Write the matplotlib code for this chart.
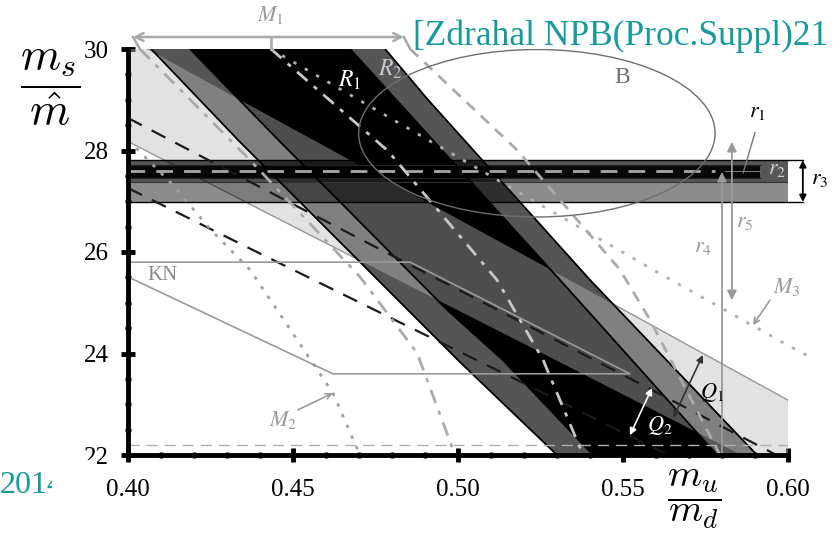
import numpy as np
import matplotlib.pyplot as plt
from matplotlib.patches import Polygon, Ellipse, Rectangle

plt.rcParams['font.family'] = ['Liberation Serif', 'DejaVu Serif']
plt.rcParams['mathtext.fontset'] = 'stix'

# values: x = m_u/m_d, y = m_s/m_hat
# edges of the two R bands (solid black lines)
la_x = [0.4070, 0.4333, 0.5006, 0.5300]
la_y = [30.0, 28.21, 23.83, 22.0]
la2_x = [0.4188, 0.4455, 0.4636, 0.4967, 0.5136, 0.5409]
la2_y = [30.0, 28.21, 27.03, 24.86, 23.87, 22.0]
ra_x = [0.4673, 0.5309, 0.5785]
ra_y = [30.0, 25.45, 22.0]
rb_x = [0.4779, 0.4909, 0.5400, 0.5906]
rb_y = [30.0, 29.0, 25.45, 22.0]

# Q1 band (light) and Q2 curves (black dashed)
q_r = [0.40, 0.44, 0.48, 0.52, 0.56, 0.60]
q1_lo = [28.18, 26.84, 25.51, 24.19, 22.86, 21.53]
q1_hi = [30.21, 28.78, 27.36, 25.94, 24.51, 23.08]
q2_hi = [28.64, 27.28, 25.93, 24.59, 23.24, 21.88]
q2_lo = [27.26, 25.97, 24.69, 23.41, 22.12, 20.83]

# horizontal lattice bands r1..r3
r3_band = (26.985, 27.81)
r2_band = (27.38, 27.81)
r1_band = (27.46, 27.71)
r1_end = 0.5915
r_centre = 27.60
r4_x, r4_top = 0.580, 27.58
r5_x, r5_span = 0.583, (25.05, 28.17)

# gray M lines
m_left_x = [0.4036, 0.4370, 0.4703, 0.4876, 0.4991]
m_left_y = [30.0, 27.81, 25.51, 24.01, 22.0]
m2_x = [0.40, 0.4130, 0.4252, 0.4370, 0.4621, 0.4703]
m2_y = [28.21, 27.36, 26.43, 25.65, 23.22, 22.0]
m1_dash_x = [0.4433, 0.4788, 0.4915, 0.5118, 0.5258, 0.5379]
m1_dash_y = [30.0, 27.99, 27.01, 25.45, 23.87, 22.0]
m3_x = [0.4433, 0.4909, 0.5591, 0.5997, 0.6067]
m3_y = [30.0, 28.21, 25.65, 24.17, 23.93]
m_right_x = [0.4855, 0.5179, 0.5491, 0.5582, 0.5794]
m_right_y = [30.0, 28.01, 25.65, 24.66, 22.0]

# KN outline and ellipse B
kn_x = [0.40, 0.4855, 0.5521, 0.4621, 0.40]
kn_y = [25.80, 25.80, 23.60, 23.60, 25.51]
b_centre = (0.5239, 28.34)
b_size = (0.108, 3.30)

fig = plt.figure(figsize=(8.4, 5.42), dpi=100)
ax = fig.add_axes([128/840, 1-455/542, 660/840, 406/542])
ax.set_xlim(0.40, 0.60)
ax.set_ylim(22, 30)


def pts(xs, ys):
    return list(zip(xs, ys))


strip_a = pts(la_x, la_y) + pts(la2_x, la2_y)[::-1]
middle = pts(la2_x, la2_y) + pts(ra_x, ra_y)[::-1]
strip_b = pts(ra_x, ra_y) + pts(rb_x, rb_y)[::-1]
ax.add_patch(Polygon(strip_a, closed=True, fc='#555555', ec='none', zorder=2))
ax.add_patch(Polygon(middle, closed=True, fc='black', ec='none', zorder=2))
ax.add_patch(Polygon(strip_b, closed=True, fc='#555555', ec='none', zorder=2))

# Q1 band drawn on top as a light veil
ax.plot(q_r, q1_lo, color='#8c8c8c', lw=1, zorder=1.5)
ax.plot(q_r, q1_hi, color='#8c8c8c', lw=1, zorder=1.5)
q1_poly = pts(q_r, q1_hi) + pts(q_r, q1_lo)[::-1]
ax.add_patch(Polygon(q1_poly, closed=True, fc='#bcbcbc', alpha=0.42, ec='none', zorder=3))

# horizontal r bands
ax.fill_between([0.40, 0.60], *r3_band, color='black', alpha=0.45, lw=0, zorder=4)
ax.fill_between([0.40, 0.60], *r2_band, color='black', alpha=0.38, lw=0, zorder=4)
ax.fill_between([0.40, r1_end], *r1_band, color='black', alpha=0.9, lw=0, zorder=4)
for yy in r3_band:
    ax.plot([0.40, 0.6045], [yy, yy], color='black', lw=1, zorder=5, clip_on=False)
for yy in r1_band:
    ax.plot([0.40, r1_end], [yy, yy], color='#222222', lw=0.8, zorder=5)
ax.plot([0.40, 0.60], [r2_band[0]] * 2, color='#333333', lw=0.8, zorder=5)
ax.plot([0.40, 0.578], [r_centre] * 2, color='#a8a8a8', lw=2, dashes=(6, 4), zorder=6)
ax.plot([0.581, r1_end], [r_centre] * 2, color='#777777', lw=0.8, zorder=6)

# R band edges and Q2 curves
for xs, ys in [(la_x, la_y), (la2_x, la2_y), (ra_x, ra_y), (rb_x, rb_y)]:
    ax.plot(xs, ys, color='black', lw=1.3, zorder=5)
ax.plot(q_r, q2_hi, color='#1a1a1a', lw=1.6, dashes=(7, 5), zorder=5)
ax.plot(q_r, q2_lo, color='#1a1a1a', lw=1.6, dashes=(7, 5), zorder=5)

# gray M lines
ax.plot(m_left_x, m_left_y, color='#aaaaaa', lw=2, dashes=(5, 3, 1.5, 3), zorder=6)
ax.plot(m2_x, m2_y, color='#a0a0a0', lw=2, dashes=(1.2, 3), zorder=6)
ax.plot(m1_dash_x, m1_dash_y, color='#c8c8c8', lw=2, dashes=(5, 3, 1.5, 3), zorder=6)
ax.plot(m3_x, m3_y, color='#b0b0b0', lw=2, dashes=(1.2, 3.5), zorder=6, clip_on=False)
ax.plot(m_right_x, m_right_y, color='#aaaaaa', lw=2, dashes=(4, 3), zorder=6)
ax.plot([0.40, 0.60], [22.2, 22.2], color='#b0b0b0', lw=1, dashes=(8, 5), zorder=6)

ax.plot(kn_x, kn_y, color='#9a9a9a', lw=1.2, zorder=6)
ax.add_patch(Ellipse(b_centre, *b_size, fill=False, ec='#6e6e6e', lw=1, zorder=6))

# annotations
gray = '#9a9a9a'
ax.annotate('', xy=(0.4015, 30.236), xytext=(0.4836, 30.236), annotation_clip=False,
            arrowprops=dict(arrowstyle='<->', color='#a8a8a8', lw=1.8, mutation_scale=14,
                            shrinkA=0, shrinkB=0))
for xa, xb in [(0.4433, 0.4433), (0.4015, 0.4036), (0.4836, 0.4855)]:
    ax.plot([xa, xb], [30.236, 30.0], color='#a8a8a8', lw=1.8, clip_on=False)
ax.text(0.4433, 30.67, r'$M_1$', color=gray, fontsize=16, ha='center', va='center')
ax.text(0.4673, 29.39, r'$R_1$', color='white', fontsize=17, ha='center', va='center', zorder=8)
ax.text(0.4794, 29.59, r'$R_2$', color='#c8c8d0', fontsize=17, ha='center', va='center', zorder=8)
ax.text(0.5497, 29.43, 'B', color='#707070', fontsize=17, ha='center', va='center', zorder=8)
ax.text(0.4106, 25.53, 'KN', color='#8a8a8a', fontsize=15, ha='center', va='center', zorder=8)

ax.text(0.5906, 28.74, r'$r_1$', color='black', fontsize=16, ha='center', va='center', zorder=8)
ax.plot([0.5900, 0.5864], [28.35, 27.56], color='#777777', lw=1, zorder=8)
ax.text(0.5967, 27.62, r'$r_2$', color='#cfcfcf', fontsize=16, ha='center', va='center', zorder=8)
ax.text(0.6097, 27.42, r'$r_3$', color='black', fontsize=16, ha='center', va='center', zorder=8)
ax.annotate('', xy=(0.6045, r3_band[1]), xytext=(0.6045, r3_band[0]), annotation_clip=False,
            arrowprops=dict(arrowstyle='<|-|>', color='black', lw=1.3, mutation_scale=10,
                            shrinkA=0, shrinkB=0))
ax.annotate('', xy=(r4_x, r4_top), xytext=(r4_x, 22.0),
            arrowprops=dict(arrowstyle='-|>', color=gray, lw=1.3, mutation_scale=14,
                            shrinkA=0, shrinkB=0), zorder=8)
ax.text(0.5742, 26.08, r'$r_4$', color=gray, fontsize=16, ha='center', va='center', zorder=8)
ax.annotate('', xy=(r5_x, r5_span[1]), xytext=(r5_x, r5_span[0]),
            arrowprops=dict(arrowstyle='<|-|>', color=gray, lw=1.3, mutation_scale=14,
                            shrinkA=0, shrinkB=0), zorder=8)
ax.text(0.587, 26.59, r'$r_5$', color=gray, fontsize=16, ha='center', va='center', zorder=8)

ax.annotate('', xy=(0.5894, 24.56), xytext=(0.5945, 25.05),
            arrowprops=dict(arrowstyle='->', color=gray, lw=1.2, shrinkA=0, shrinkB=0), zorder=8)
ax.text(0.5995, 25.31, r'$M_3$', color=gray, fontsize=16, ha='center', va='center', zorder=8)
ax.annotate('', xy=(0.4621, 23.22), xytext=(0.4515, 22.89),
            arrowprops=dict(arrowstyle='->', color=gray, lw=1.2, shrinkA=0, shrinkB=0), zorder=8)
ax.text(0.447, 22.69, r'$M_2$', color=gray, fontsize=16, ha='center', va='center', zorder=8)

ax.annotate('', xy=(0.5742, 23.97), xytext=(0.5652, 22.73),
            arrowprops=dict(arrowstyle='<|-|>', color='#333333', lw=1.2, mutation_scale=10,
                            shrinkA=0, shrinkB=0), zorder=8)
ax.text(0.577, 23.24, r'$Q_1$', color='black', fontsize=16, ha='center', va='center', zorder=8)
ax.annotate('', xy=(0.5588, 23.32), xytext=(0.5521, 22.39),
            arrowprops=dict(arrowstyle='<|-|>', color='white', lw=1.2, mutation_scale=10,
                            shrinkA=0, shrinkB=0), zorder=8)
ax.text(0.5612, 22.59, r'$Q_2$', color='white', fontsize=16, ha='center', va='center', zorder=8)

# axes styling
ax.set_xticks([0.40, 0.45, 0.50, 0.55, 0.60])
ax.set_xticklabels(['0.40', '0.45', '0.50', '0.55', '0.60'])
ax.set_yticks([22, 24, 26, 28, 30])
ax.set_xticks(np.arange(0.40, 0.601, 0.01), minor=True)
ax.set_yticks(np.arange(22, 30.01, 0.5), minor=True)
ax.tick_params(which='major', direction='inout', length=10, width=3.5, labelsize=18)
ax.tick_params(axis='x', which='major', pad=12)
ax.tick_params(axis='y', which='major', pad=9)
ax.tick_params(which='minor', direction='inout', length=5, width=2.5)
for s in ['top', 'right']:
    ax.spines[s].set_visible(False)
for s in ['left', 'bottom']:
    ax.spines[s].set_linewidth(3.5)
    ax.spines[s].set_zorder(9)

fig.text(50/840, 1-88/542, r'$\dfrac{m_s}{\hat{m}}$', fontsize=33, math_fontfamily='cm',
         ha='center', va='center')
fig.text(694/840, 1-499/542, r'$\dfrac{m_u}{m_d}$', fontsize=28, math_fontfamily='cm',
         ha='center', va='center')

teal = '#169b9b'
fig.text(413/840, 1-45/542, '[Zdrahal NPB(Proc.Suppl)21', color=teal, fontsize=25.5,
         va='baseline', ha='left')
fig.text(0, 1-493/542, '2014', color=teal, fontsize=23, va='baseline', ha='left', zorder=1)
fig.patches.append(Rectangle((52/840, 1-505/542), 45/840, 45/542, transform=fig.transFigure,
                             fc='white', ec='none', zorder=2))

fig.savefig('out.png', dpi=100)
